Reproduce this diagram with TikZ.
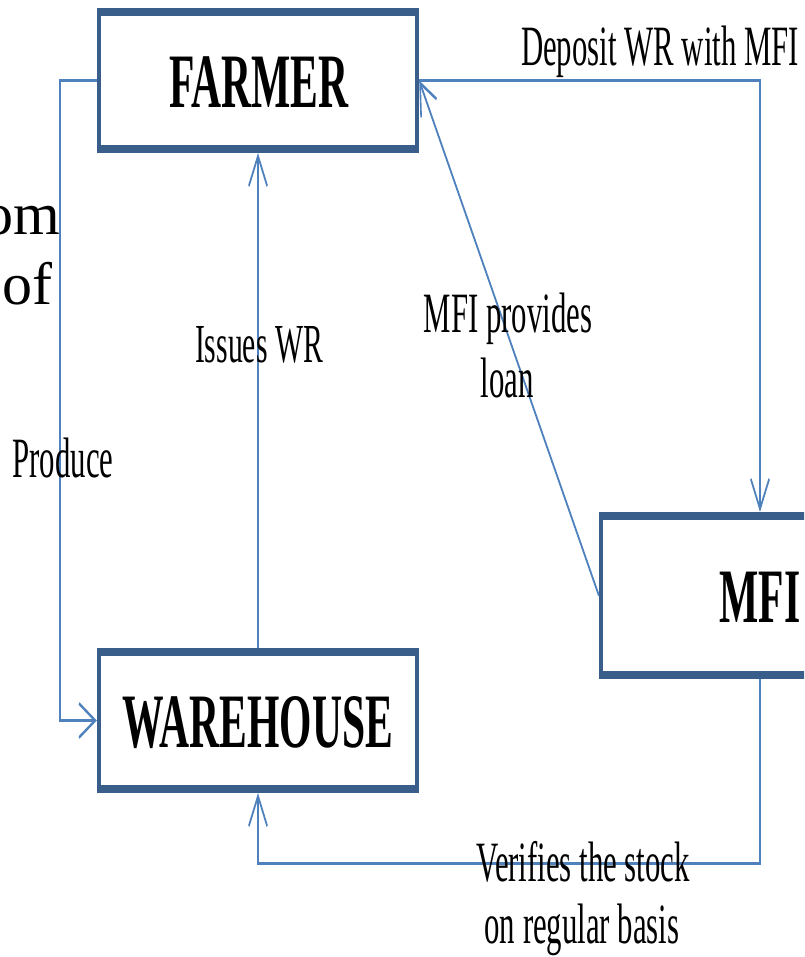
\documentclass[tikz,border=0pt]{standalone}
\usepackage{fontspec}
\setmainfont{Liberation Serif}
\usetikzlibrary{arrows.meta,fit}
\definecolor{boxblue}{RGB}{58,94,138}
\definecolor{lineblue}{RGB}{79,129,189}
\begin{document}
\begin{tikzpicture}[
  box/.style={draw=boxblue, line width=8pt, inner sep=0pt},
  boxtext/.style={font=\fontsize{77}{80}\selectfont\bfseries, inner sep=0pt, anchor=base},
  conn/.style={draw=lineblue, line width=3pt},
  tip/.style={-{Straight Barb[length=30pt,width=34pt]}},
  lbl/.style={font=\fontsize{57}{60}\selectfont, inner sep=0pt, anchor=base},
  bg/.style={font=\fontsize{60}{64}\selectfont, inner sep=0pt, anchor=base east}
]
\useasboundingbox (0,0) rectangle (804pt,-957pt);
\clip (0,0) rectangle (804pt,-957pt);
\node[bg] (om) at (60pt,-235pt) {om};
\node[bg] (of) at (53pt,-305pt) {of};
\begin{scope}[transform canvas={xscale=0.54}, x=1.85185pt, y=-1pt]
  \node[box, fit={(99,12) (417,149)}] (farmer) {};
  \node[box, fit={(99,652) (417,789)}] (warehouse) {};
  \node[box, fit={(601,516) (919,675)}] (mfi) {};
  \node[boxtext] (farmertext) at (259,108) {FARMER};
  \node[boxtext] (warehousetext) at (258,747) {WAREHOUSE};
  \node[boxtext] (mfitext) at (760,622) {MFI};

  \draw[conn,tip] (farmer.west) -- ++(-37,0) |- (warehouse.west);
  \draw[conn,tip] (warehouse.north) -- (farmer.south);
  \draw[conn,tip] (farmer.east) -| (mfi.north);
  \draw[conn,tip] (mfi.west) -- (farmer.east);
  \draw[conn,tip] (mfi.south) -- ++(0,184) -| (warehouse.south);

  \node[lbl, font=\fontsize{55}{58}\selectfont] (issues) at (259,362) {Issues WR};
  \node[lbl] (produce) at (63,477) {Produce};
  \node[lbl] (deposit) at (660,66) {Deposit WR with MFI};
  \node[lbl] (mfiprov) at (508,332) {MFI provides};
  \node[lbl] (loan) at (507,397) {loan};
  \node[lbl] (verifies) at (583,881) {Verifies the stock};
  \node[lbl] (regular) at (582,943) {on regular basis};
\end{scope}
\end{tikzpicture}
\end{document}
